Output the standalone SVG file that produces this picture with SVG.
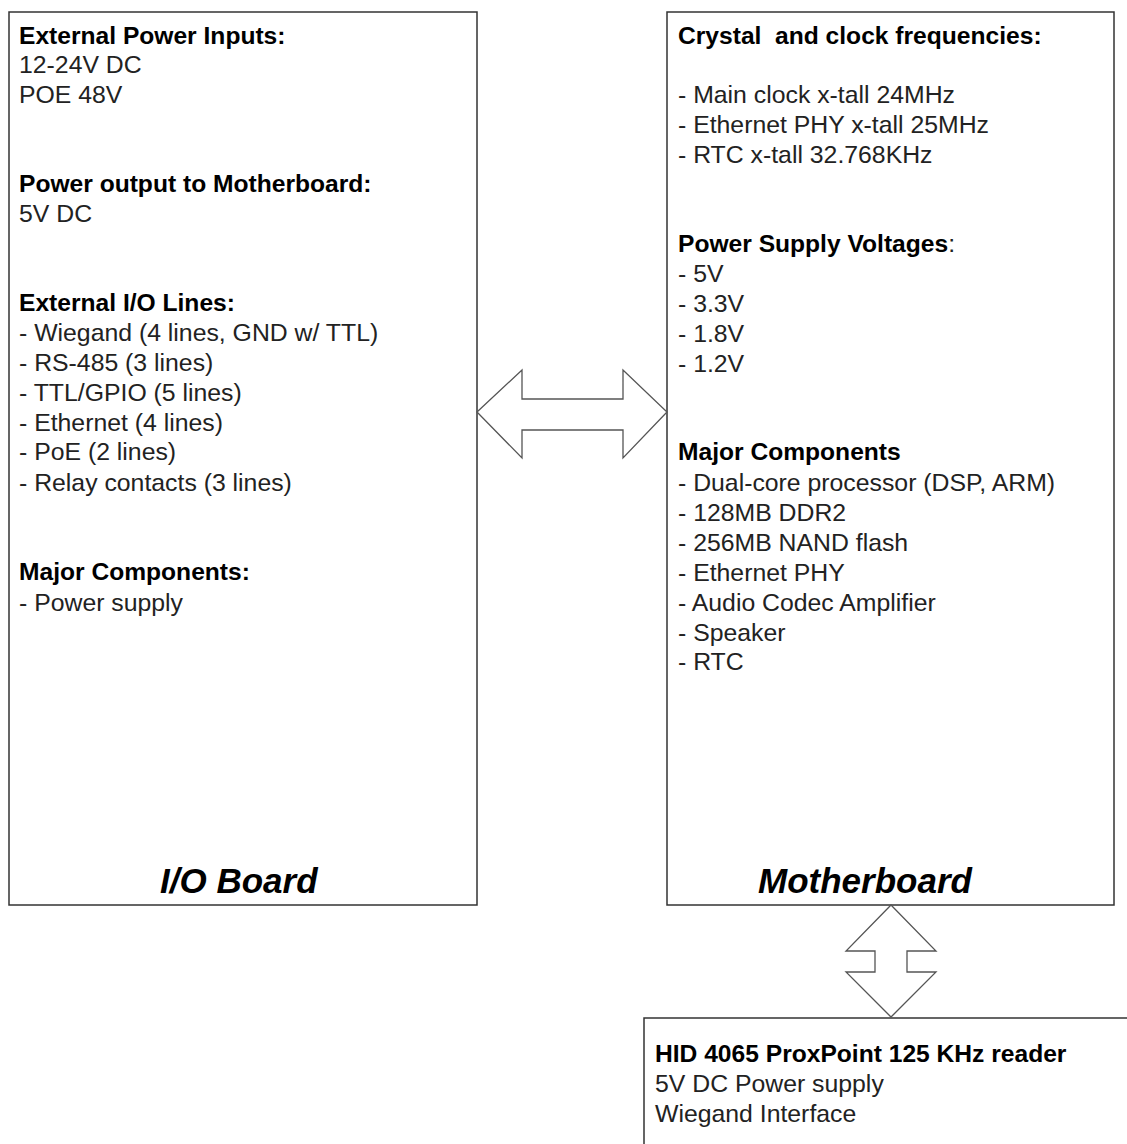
<svg xmlns="http://www.w3.org/2000/svg" width="1127" height="1144" viewBox="0 0 1127 1144">
<style>
.box{fill:#fff;stroke:#333;stroke-width:1.5}
.arr{fill:#fff;stroke:#555;stroke-width:1.3;stroke-linejoin:miter}
text{font-family:"Liberation Sans",Arial,sans-serif;font-size:24.8px;fill:#222}
.b{font-weight:bold;fill:#000;font-size:24.6px}
.t{font-weight:bold;font-style:italic;font-size:35px;fill:#000}
</style>
<rect width="1127" height="1144" fill="#fff"/>
<g id="io-board">
<rect class="box" x="9" y="12" width="468" height="893"/>
<text class="b" x="19" y="44">External Power Inputs:</text>
<text x="19" y="73">12-24V DC</text>
<text x="19" y="103">POE 48V</text>
<text class="b" x="19" y="192">Power output to Motherboard:</text>
<text x="19" y="222">5V DC</text>
<text class="b" x="19" y="311">External I/O Lines:</text>
<text x="19" y="341">- Wiegand (4 lines, GND w/ TTL)</text>
<text x="19" y="371">- RS-485 (3 lines)</text>
<text x="19" y="401">- TTL/GPIO (5 lines)</text>
<text x="19" y="431">- Ethernet (4 lines)</text>
<text x="19" y="460">- PoE (2 lines)</text>
<text x="19" y="491">- Relay contacts (3 lines)</text>
<text class="b" x="19" y="580">Major Components:</text>
<text x="19" y="611">- Power supply</text>
<text class="t" x="160" y="893">I/O Board</text>
</g>
<g id="motherboard">
<rect class="box" x="667" y="12" width="447" height="893"/>
<text class="b" x="678" y="44" xml:space="preserve">Crystal  and clock frequencies:</text>
<text x="678" y="103">- Main clock x-tall 24MHz</text>
<text x="678" y="133">- Ethernet PHY x-tall 25MHz</text>
<text x="678" y="163">- RTC x-tall 32.768KHz</text>
<text x="678" y="252"><tspan class="b">Power Supply Voltages</tspan>:</text>
<text x="678" y="282">- 5V</text>
<text x="678" y="312">- 3.3V</text>
<text x="678" y="342">- 1.8V</text>
<text x="678" y="372">- 1.2V</text>
<text class="b" x="678" y="460">Major Components</text>
<text x="678" y="491">- Dual-core processor (DSP, ARM)</text>
<text x="678" y="521">- 128MB DDR2</text>
<text x="678" y="551">- 256MB NAND flash</text>
<text x="678" y="581">- Ethernet PHY</text>
<text x="678" y="611">- Audio Codec Amplifier</text>
<text x="678" y="641">- Speaker</text>
<text x="678" y="670">- RTC</text>
<text class="t" x="758" y="893">Motherboard</text>
</g>
<g id="reader">
<rect class="box" x="644" y="1018" width="490" height="140"/>
<text class="b" x="655" y="1062">HID 4065 ProxPoint 125 KHz reader</text>
<text x="655" y="1092">5V DC Power supply</text>
<text x="655" y="1122">Wiegand Interface</text>
</g>
<g id="connectors">
<polygon class="arr" points="477,412 522,370 522,399 623,399 623,370 667,412 623,458 623,430 522,430 522,458"/>
<polygon class="arr" points="891,905 936,951 907,951 907,972 936,972 891,1017 846,972 875,972 875,951 846,951"/>
</g>
</svg>
